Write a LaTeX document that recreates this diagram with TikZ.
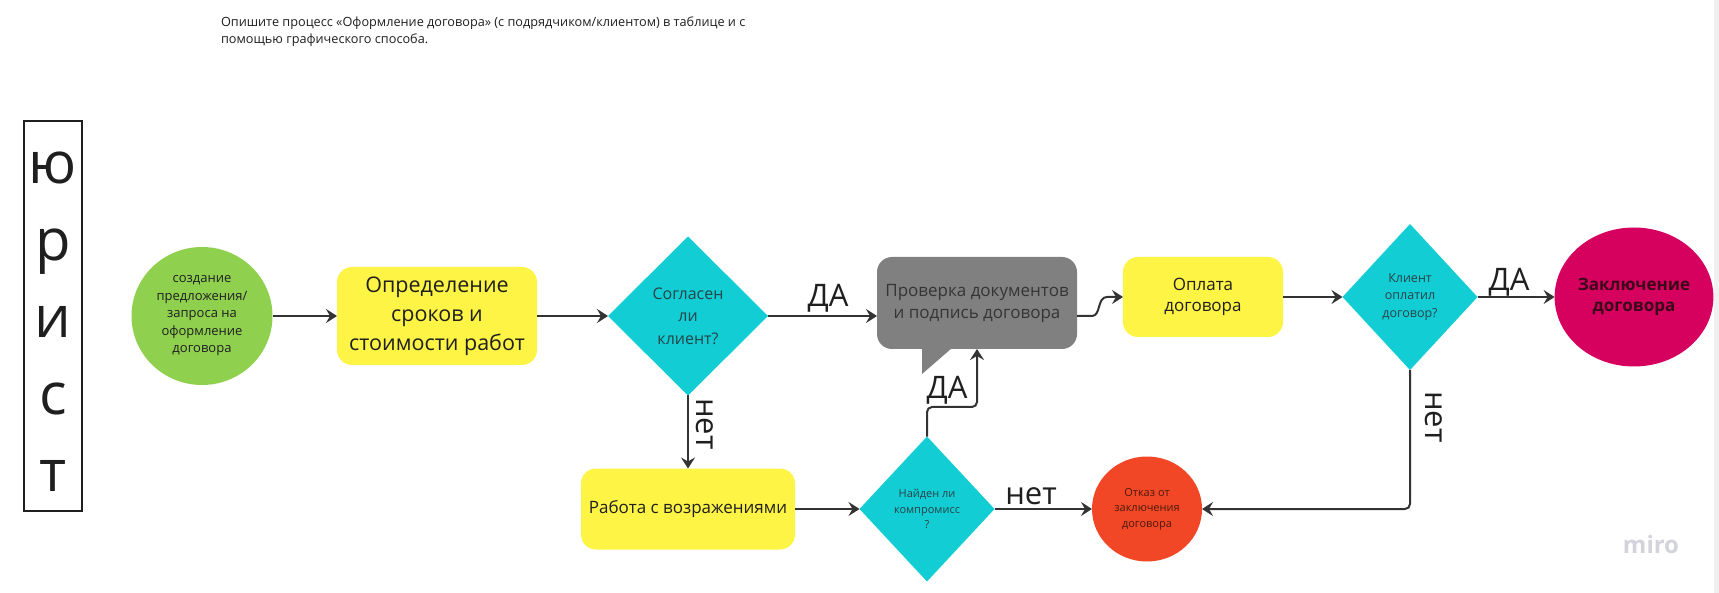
\documentclass[tikz,border=0pt]{standalone}
\usepackage{fontspec}
\setmainfont{Open Sans}
\usetikzlibrary{shapes.geometric,arrows.meta,calc}
\definecolor{cgreen}{HTML}{8FD14F}
\definecolor{cyellow}{HTML}{FEF445}
\definecolor{ccyan}{HTML}{12CDD4}
\definecolor{cgrey}{HTML}{808080}
\definecolor{cmag}{HTML}{D6005F}
\definecolor{cred}{HTML}{F24726}
\definecolor{cline}{HTML}{333333}
\definecolor{ctxt}{HTML}{1F1F1F}
\definecolor{ctcyan}{HTML}{264348}
\definecolor{ctgrey}{HTML}{353535}
\definecolor{ctmag}{HTML}{3A0818}
\definecolor{ctred}{HTML}{4A1A0A}
\definecolor{cmiro}{HTML}{D3D3DC}
\definecolor{cedge}{HTML}{F0F0F0}
\begin{document}
\begin{tikzpicture}[x=1pt,y=-1pt,
  every node/.style={inner sep=0pt, outer sep=0pt},
  flow/.style={draw=cline, line width=2pt, -{Stealth[length=11pt,width=14pt,inset=4pt]}},
  rbox/.style={rectangle, rounded corners=15pt, align=center, text=ctxt},
  dia/.style={diamond, fill=ccyan, align=center, text=ctcyan},
  lbl/.style={font=\fontsize{31}{36}\selectfont, text=ctxt},
]
\useasboundingbox (0,0) rectangle (1719,593);
\fill[white] (0,0) rectangle (1719,593);
\fill[cedge] (1714,0) rectangle (1719,593);

% header
\node[anchor=north west, align=left, text=ctxt, font=\fontsize{12.7}{17.5}\selectfont] (hdr) at (221,16.5)
  {Опишите процесс «Оформление договора» (с подрядчиком/клиентом) в таблице и с\\помощью графического способа.};

% lane label
\node[draw=ctxt, line width=1.3pt, minimum width=58pt, minimum height=390pt] (lane) at (53,316) {};
\node[align=center, text=ctxt, font=\fontsize{58}{77}\selectfont] (lanetxt) at (53,321.5) {ю\\р\\и\\с\\т};

% nodes
\node[ellipse, fill=cgreen, minimum width=141pt, minimum height=138pt, align=center, text=ctxt,
      font=\fontsize{13}{17.5}\selectfont] (g) at (202,316)
  {создание\\предложения/\\запроса на\\оформление\\договора};
\node[rbox, fill=cyellow, minimum width=200pt, minimum height=98pt, font=\fontsize{21.5}{29}\selectfont] (b1) at (437,316)
  {Определение\\сроков и\\стоимости работ};
\node[dia, minimum width=160pt, minimum height=159pt, font=\fontsize{16}{22.5}\selectfont] (d1) at (688,316)
  {Согласен\\ли\\клиент?};
\node[rbox, fill=cgrey, text=ctgrey, minimum width=200pt, minimum height=92pt, font=\fontsize{17}{22}\selectfont] (gr) at (977,303)
  {Проверка документов\\и подпись договора};
\fill[cgrey] ($(gr.south west)+(45,-1)$) -- ($(gr.south west)+(45,25)$) -- ($(gr.south west)+(75,-1)$) -- cycle;
\node[rbox, fill=cyellow, minimum width=160pt, minimum height=80pt, font=\fontsize{17}{21}\selectfont] (op) at (1203,297)
  {Оплата\\договора};
\node[dia, minimum width=135pt, minimum height=146pt, font=\fontsize{12.5}{17.5}\selectfont] (d3) at (1410,297)
  {Клиент\\оплатил\\договор?};
\node[ellipse, fill=cmag, minimum width=153pt, minimum height=139pt, align=center, text=ctmag,
      font=\bfseries\fontsize{17}{21}\selectfont] (m) at (1634,297)
  {Заключение\\договора};
\node[rbox, fill=cyellow, minimum width=214pt, minimum height=81pt, font=\fontsize{17}{21}\selectfont] (b2) at (688,509)
  {Работа с возражениями};
\node[dia, minimum width=135pt, minimum height=145pt, font=\fontsize{11}{15.5}\selectfont] (d2) at (927,509)
  {Найден ли\\компромисс\\?};
\node[ellipse, fill=cred, minimum width=110pt, minimum height=105pt, align=center, text=ctred,
      font=\fontsize{11}{15.5}\selectfont] (o) at (1147,509)
  {Отказ от\\заключения\\договора};

% connectors
\draw[flow] (g.east) -- (b1.west);
\draw[flow] (b1.east) -- (d1.west);
\draw[flow] (d1.east) -- (d1.east -| gr.west);
\draw[flow] (d1.south) -- (b2.north);
\draw[flow] (b2.east) -- (d2.west);
\coordinate (k) at (977,407);
\draw[flow, rounded corners=5pt] (d2.north) |- (k) -- (k |- gr.south);
\draw[flow] (d2.east) -- (o.west);
\coordinate (s1) at ($(gr.east)+(0,13)$);
\draw[flow] (s1) -- (1092,316) .. controls (1101,316) and (1097,297) .. (1107,297) -- (op.west);
\draw[flow] (op.east) -- (d3.west);
\draw[flow] (d3.east) -- (m.west);
\draw[flow, rounded corners=5pt] (d3.south) |- (o.east);

% labels
\node[lbl, anchor=base] (l1) at (828,307) {ДА};
\node[lbl, anchor=base] (l2) at (947,399) {ДА};
\node[lbl, anchor=base] (l3) at (1509,291) {ДА};
\node[lbl, anchor=base] (l4) at (1031,504) {нет};
\node[lbl, rotate=-90] (l5) at (705,424) {нет};
\node[lbl, rotate=-90] (l6) at (1434,417) {нет};

% watermark
\node[anchor=base, text=cmiro, font=\bfseries\fontsize{24}{28}\selectfont] (miro) at (1651,553) {miro};
\end{tikzpicture}
\end{document}
